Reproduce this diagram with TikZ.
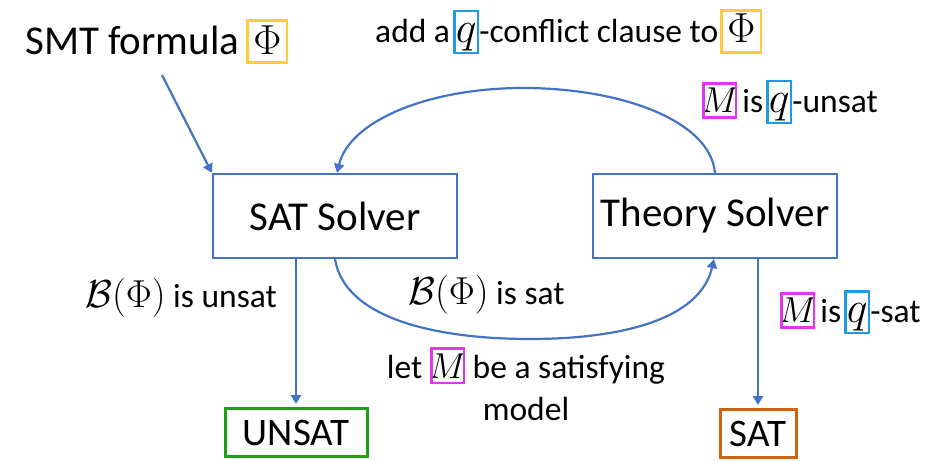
\RequirePackage{fix-cm}
\documentclass[tikz,border=0pt]{standalone}
\usepackage[no-math]{fontspec}
\setmainfont{Carlito}
\usetikzlibrary{arrows.meta}
\definecolor{lblue}{HTML}{4472C4}
\definecolor{cyel}{HTML}{FFCC33}
\definecolor{ccyan}{HTML}{1E9BE0}
\definecolor{cmag}{HTML}{E335F0}
\definecolor{cgreen}{HTML}{1E9E14}
\definecolor{corange}{HTML}{D2620A}
% colored inline box: colour, inner width, height, depth, math size, math content
\newcommand\cbx[6]{{\setlength\fboxsep{0pt}\setlength\fboxrule{2.6pt}\fcolorbox{#1}{white}{\makebox[#2][c]{\rule[-#4]{0pt}{\dimexpr#3+#4\relax}{\fontsize{#5}{#5}\selectfont$#6$}}}}}
\newcommand\qbx{\cbx{ccyan}{21pt}{30.5pt}{7pt}{44}{q}}
\newcommand\Mbx{\cbx{cmag}{30pt}{28pt}{3.5pt}{36}{M}}
\newcommand\Phbx{\cbx{cyel}{37pt}{31pt}{8pt}{42}{\Phi}}
\newcommand\Phbig{\cbx{cyel}{37pt}{33pt}{6pt}{42}{\Phi}}
\newcommand\BPhi{{\fontsize{39}{39}\selectfont$\mathcal{B}(\Phi)$}}
\begin{document}
\begin{tikzpicture}[x=1pt,y=-1pt,
  big/.style={font=\fontsize{41}{49}\selectfont},
  lab/.style={font=\fontsize{33.5}{40}\selectfont},
  solver/.style={draw=lblue,line width=2.2pt,minimum width=244pt,minimum height=84pt,big,inner sep=0pt},
  result/.style={line width=3pt,minimum height=48pt,font=\fontsize{39}{47}\selectfont,inner sep=0pt},
  conn/.style={draw=lblue,line width=2.2pt,-{Triangle[width=10pt,length=9pt]}},
  txt/.style={anchor=base west,inner sep=0pt}
]
\useasboundingbox (0,0) rectangle (942,462);

\node[solver] (sat) at (335,216) {SAT Solver};
\node[solver] (th) at (715,216) {Theory Solver};
\node[result,draw=cgreen,minimum width=142pt] (unsat) at (296,432.5) {UNSAT};
\node[result,draw=corange,minimum width=76pt] (satr) at (758,433.5) {SAT};

\node[txt,big] (smt) at (25,55) {SMT formula\hspace{7pt}\Phbig};
\node[txt,lab] (add) at (375,43) {add a\hspace{3pt}\qbx-conflict clause to\hspace{2pt}\Phbx};
\node[txt,lab] (qunsat) at (702,113) {\Mbx\hspace{5pt}is\hspace{3pt}\qbx-unsat};
\node[txt,lab] (bunsat) at (85,307) {\BPhi{} is unsat};
\node[txt,lab] (bsat) at (408,305) {\BPhi{} is sat};
\node[txt,lab] (qsat) at (780,323) {\Mbx\hspace{5pt}is\hspace{3pt}\qbx-sat};
\node[lab,anchor=base,inner sep=0pt] (let1) at (526,378) {let \Mbx\ be a satisfying};
\node[lab,anchor=base,inner sep=0pt] (let2) at (526,420) {model};

\coordinate (smtend) at (162,75);
\coordinate (top) at (523,88);
\coordinate (bot) at (530,339);

\draw[conn] (smtend) -- (sat.north west);
\draw[conn] (th.north) .. controls (710,120) and (620,88) .. (top)
  .. controls (430,88) and (350,120) .. ([xshift=2pt]sat.north);
\draw[conn] (sat.south) .. controls (345,320) and (440,339) .. (bot)
  .. controls (620,339) and (700,320) .. ([xshift=-1pt]th.south);
\draw[conn,shorten >=3pt] (unsat.north |- sat.south) -- (unsat.north);
\draw[conn,shorten >=3pt] (satr.north |- th.south) -- (satr.north);
\end{tikzpicture}
\end{document}
